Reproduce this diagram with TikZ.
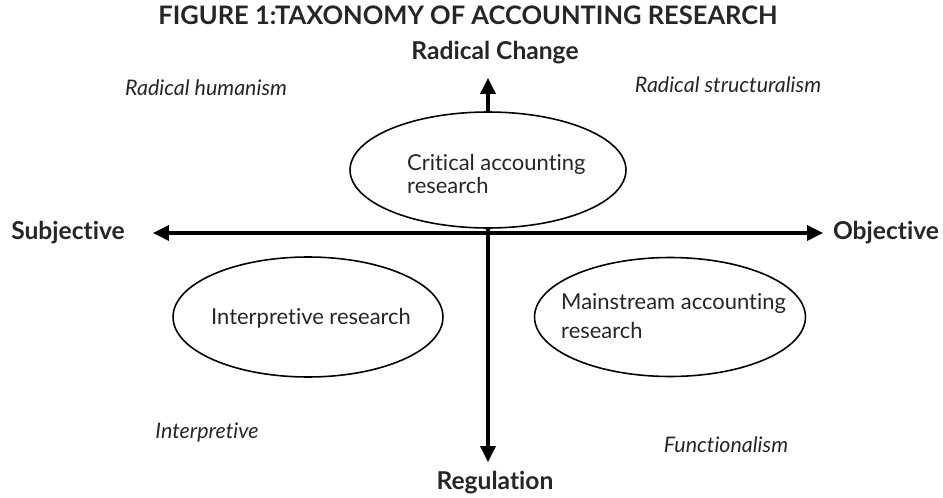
\documentclass[tikz,border=0pt]{standalone}
\usepackage{fontspec}
\setmainfont{Lato}[Ligatures={NoCommon}]
\usetikzlibrary{arrows.meta,shapes.geometric}

\begin{document}
\begin{tikzpicture}[x=0.02cm, y=-0.02cm,
  axis/.style={-{Triangle[length=9pt, width=8.5pt]}, line width=1.8pt},
  quad/.style={draw, ellipse, line width=0.9pt, inner sep=0pt},
  inner/.style={font=\fontsize{12.5}{15}\selectfont, align=left, text=black!85},
  pole/.style={font=\fontsize{14}{16}\selectfont\bfseries, text=black!85},
  para/.style={font=\fontsize{12.2}{14}\selectfont\itshape, text=black!85},
]
  \useasboundingbox (0,0) rectangle (943,497);

  \node[font=\fontsize{14.5}{16}\selectfont\bfseries, text=black!85] (title)
    at (468,15) {FIGURE 1:TAXONOMY OF ACCOUNTING RESEARCH};

  % the two dimensions
  \node[pole] (radical) at (495,53) {Radical Change};
  \node[pole] (regul) at (495,483) {Regulation};
  \node[pole] (subj) at (68,233) {Subjective};
  \node[pole] (obj) at (886,233) {Objective};

  \coordinate (centre) at (488,233);
  \coordinate (top) at (488,78);
  \coordinate (bottom) at (488,462);
  \coordinate (left) at (153,233);
  \coordinate (right) at (823,233);

  % research streams
  \node[quad, minimum width=5.52cm, minimum height=2.32cm] (crit) at (488,170) {};
  \node[inner, anchor=west, font=\fontsize{12.5}{13}\selectfont] (critlbl)
    at (401,174) {Critical accounting\\research};
  \node[quad, minimum width=5.4cm, minimum height=2.4cm] (interp) at (308,317) {};
  \node[inner, anchor=west] (interplbl) at (205,318) {Interpretive research};
  \node[quad, minimum width=5.42cm, minimum height=2.38cm] (main) at (670,317) {};
  \node[inner, anchor=west, font=\fontsize{12.5}{16.5}\selectfont] (mainlbl)
    at (555,316) {Mainstream accounting\\research};

  \draw[axis] (centre) -- (left);
  \draw[axis] (centre) -- (right);
  \draw[axis] (crit.north) -- (top);
  \draw[line width=1.8pt] (crit.south) -- (centre);
  \draw[axis] (centre) -- (bottom);

  % paradigms
  \node[para] (rh) at (206,88) {Radical humanism};
  \node[para] (rs) at (728,85) {Radical structuralism};
  \node[para] (ip) at (207,433) {Interpretive};
  \node[para] (fn) at (726,445) {Functionalism};
\end{tikzpicture}
\end{document}
